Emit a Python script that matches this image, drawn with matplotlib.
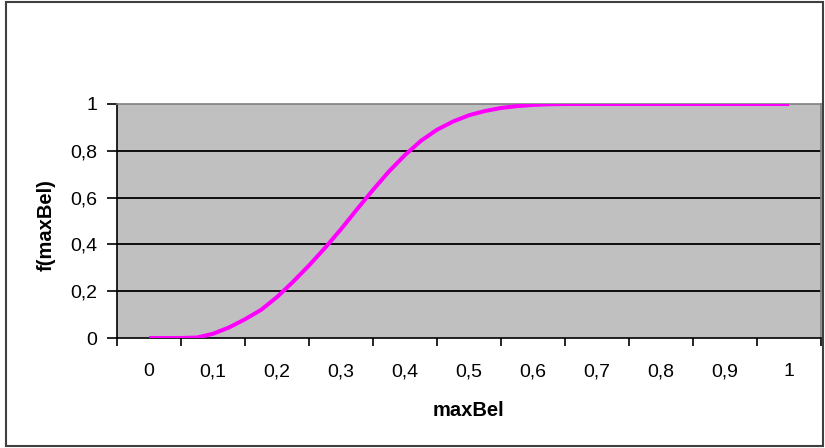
import matplotlib
matplotlib.use("Agg")
import matplotlib.pyplot as plt
from matplotlib.patches import Rectangle

plt.rcParams['font.family'] = ['Liberation Sans', 'DejaVu Sans']

x_vals = [0, 0.025, 0.05, 0.075, 0.1, 0.125, 0.15, 0.175, 0.2, 0.225, 0.25,
          0.275, 0.3, 0.325, 0.35, 0.375, 0.4, 0.425, 0.45, 0.475, 0.5,
          0.525, 0.55, 0.575, 0.6, 0.625, 0.65, 0.7, 0.75, 0.8, 0.85, 0.9,
          0.95, 1.0]
f_vals = [0, 0, 0, 0.002, 0.018, 0.045, 0.08, 0.12, 0.175, 0.24, 0.31,
          0.385, 0.465, 0.55, 0.633, 0.712, 0.782, 0.843, 0.89, 0.925, 0.952,
          0.97, 0.983, 0.991, 0.996, 0.999, 1, 1, 1, 1, 1, 1, 1, 1]

x_ticklabels = ['0', '0,1', '0,2', '0,3', '0,4', '0,5', '0,6', '0,7', '0,8', '0,9', '1']
y_ticks = [0, 0.2, 0.4, 0.6, 0.8, 1.0]
y_ticklabels = ['0', '0,2', '0,4', '0,6', '0,8', '1']

W, H = 825, 448
fig = plt.figure(figsize=(W / 100, H / 100), dpi=100)
fig.patch.set_facecolor('white')

# outer chart border
fig.add_artist(Rectangle((6 / W, 2 / H), (823 - 6) / W, (446 - 2) / H,
                         transform=fig.transFigure, fill=False,
                         edgecolor='#404040', linewidth=1.5))

ax = fig.add_axes([117 / W, (H - 338) / H, 704 / W, 234 / H])
ax.set_facecolor('#C0C0C0')

cats = [i / 10 for i in range(11)]
ax.set_xlim(-0.05, 1.05)
ax.set_ylim(0, 1)

for y in y_ticks[1:-1]:
    ax.axhline(y, color='black', linewidth=1.3, zorder=1)

ax.plot(x_vals, f_vals, color='#FF00FF', linewidth=2.9, zorder=3,
        solid_capstyle='butt', solid_joinstyle='round')

# major ticks at category boundaries, labels at category centers
ax.set_xticks([c - 0.05 for c in cats] + [1.05])
ax.set_xticklabels([])
ax.set_xticks(cats, minor=True)
ax.set_xticklabels(x_ticklabels, minor=True)
ax.tick_params(axis='x', which='major', direction='out', length=6, width=1.2, color='black')
ax.tick_params(axis='x', which='minor', length=0, pad=18, labelsize=14)

ax.set_yticks(y_ticks)
ax.set_yticklabels(y_ticklabels)
ax.tick_params(axis='y', direction='out', length=7, width=1.2, color='black', pad=7, labelsize=14)

for side in ['top', 'right']:
    ax.spines[side].set_color('#808080')
    ax.spines[side].set_linewidth(1.2)
for side in ['left', 'bottom']:
    ax.spines[side].set_color('black')
    ax.spines[side].set_linewidth(1.2)

fig.text(468 / W, 1 - 410 / H, 'maxBel', ha='center', va='center',
         fontsize=14.5, fontweight='bold')
fig.text(46 / W, 1 - 225 / H, 'f(maxBel)', ha='center', va='center',
         fontsize=14.5, fontweight='bold', rotation=90)

fig.savefig('out.png', dpi=100)
